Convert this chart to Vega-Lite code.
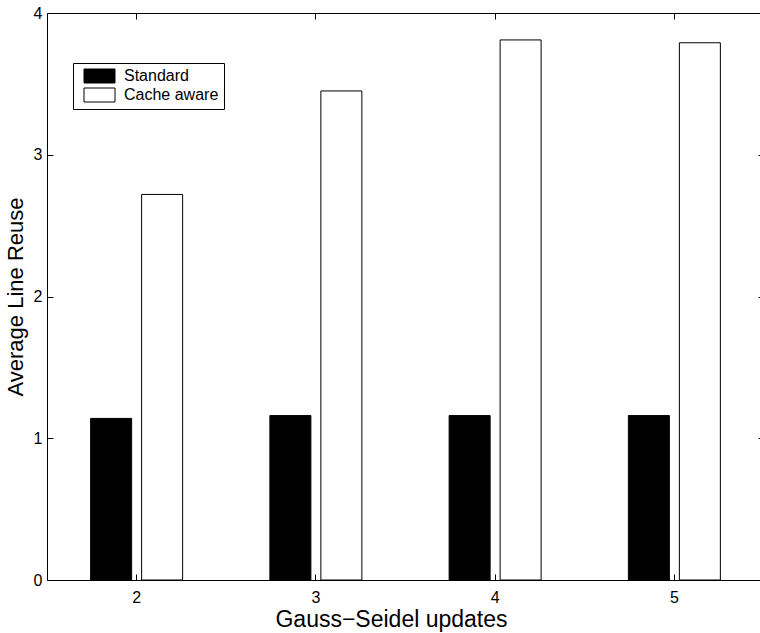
{
  "$schema": "https://vega.github.io/schema/vega-lite/v6.json",
  "autosize": {"type": "none"},
  "padding": {"left": 47, "top": 13, "right": 0, "bottom": 53},
  "width": 717,
  "height": 567,
  "background": "white",
  "config": {
    "view": {"stroke": "black", "strokeWidth": 1},
    "font": "Liberation Sans",
    "axis": {
      "domainColor": "black",
      "tickColor": "black",
      "labelColor": "black",
      "titleColor": "black",
      "labelFont": "Liberation Sans",
      "titleFont": "Liberation Sans",
      "labelFontSize": 16,
      "titleFontSize": 22,
      "titleFontWeight": "normal",
      "grid": false
    }
  },
  "data": {
    "values": [
      {"updates": "2", "method": "Standard", "reuse": 1.14},
      {"updates": "2", "method": "Cache aware", "reuse": 2.72},
      {"updates": "3", "method": "Standard", "reuse": 1.16},
      {"updates": "3", "method": "Cache aware", "reuse": 3.45},
      {"updates": "4", "method": "Standard", "reuse": 1.16},
      {"updates": "4", "method": "Cache aware", "reuse": 3.81},
      {"updates": "5", "method": "Standard", "reuse": 1.16},
      {"updates": "5", "method": "Cache aware", "reuse": 3.79}
    ]
  },
  "layer": [
    {
      "mark": {"type": "bar", "stroke": "black", "strokeWidth": 1},
      "encoding": {
        "x": {
          "field": "updates", "type": "ordinal",
          "scale": {"paddingInner": 0, "paddingOuter": 0},
          "axis": {"orient": "bottom", "labelAngle": 0, "tickSize": -6, "labelPadding": 15, "bandPosition": 0.5, "title": "Gauss\u2212Seidel updates", "titlePadding": 3, "titleFontSize": 23, "titleX": 344, "domain": false}
        },
        "xOffset": {
          "field": "method", "type": "nominal",
          "scale": {"domain": ["Standard", "Cache aware"], "paddingInner": 0.196, "paddingOuter": 0.856}
        },
        "y": {
          "field": "reuse", "type": "quantitative",
          "scale": {"domain": [0, 4], "nice": false},
          "axis": {"orient": "left", "values": [0, 1, 2, 3, 4], "tickSize": -6, "labelPadding": 11, "title": "Average Line Reuse", "titlePadding": 6, "domain": false}
        },
        "fill": {
          "field": "method", "type": "nominal",
          "scale": {"domain": ["Standard", "Cache aware"], "range": ["black", "white"]},
          "legend": {
            "orient": "none", "legendX": 26, "legendY": 50,
            "title": null,
            "symbolType": "M-0.2857,-1H4.143V1H-0.2857Z",
            "symbolSize": 196,
            "symbolStrokeColor": "black",
            "symbolStrokeWidth": 1,
            "labelFont": "Liberation Sans",
            "labelFontSize": 16,
            "labelColor": "black",
            "rowPadding": 1,
            "padding": 5,
            "strokeColor": "black",
            "fillColor": "white",
            "labelOffset": 30
          }
        }
      }
    },
    {
      "mark": {"type": "bar", "opacity": 0},
      "encoding": {
        "x": {
          "field": "updates", "type": "ordinal",
          "axis": {"orient": "top", "labels": false, "tickSize": -6, "bandPosition": 0.5, "title": null, "domain": false}
        },
        "xOffset": {"field": "method", "type": "nominal"},
        "y": {
          "field": "reuse", "type": "quantitative",
          "axis": {"orient": "right", "values": [0, 1, 2, 3, 4], "labels": false, "tickSize": -6, "title": null, "domain": false}
        }
      }
    }
  ],
  "resolve": {"axis": {"x": "independent", "y": "independent"}}
}
